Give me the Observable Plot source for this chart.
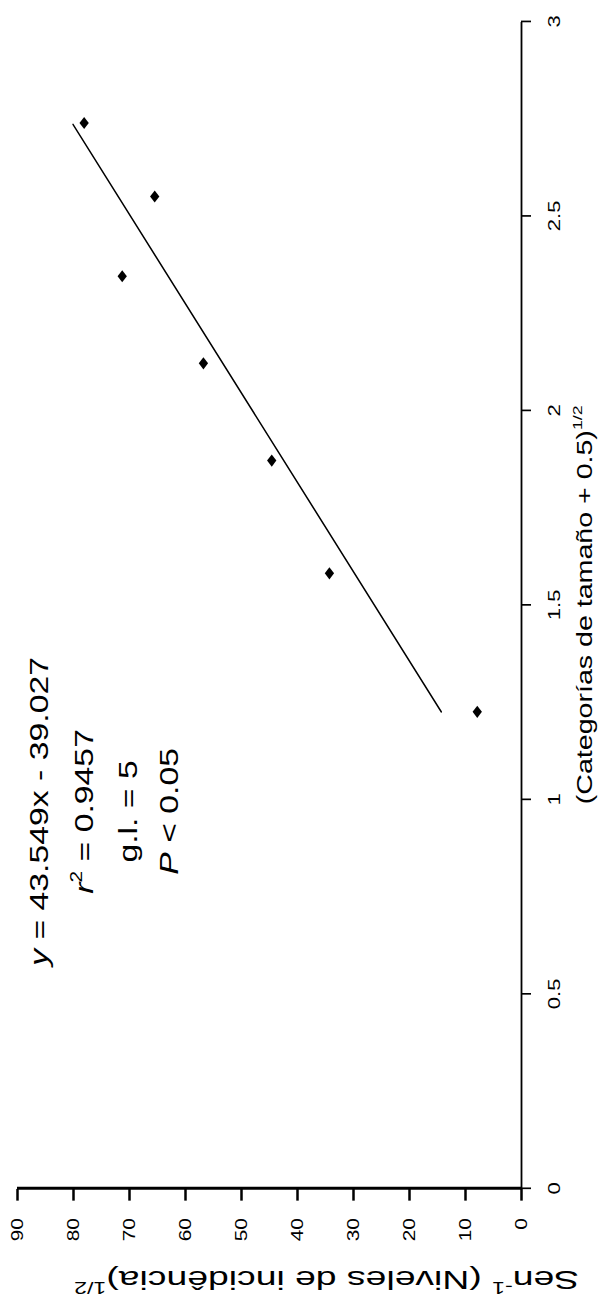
<!DOCTYPE html>
<html>
<head>
<meta charset="utf-8">
<script src="https://cdn.jsdelivr.net/npm/d3@7"></script>
<script src="https://cdn.jsdelivr.net/npm/@observablehq/plot@0.6"></script>
<style>
  html, body { margin: 0; padding: 0; width: 609px; height: 1302px; overflow: hidden; background: #fff; }
  #chart { position: relative; width: 609px; height: 1302px; overflow: hidden; }
  #chart svg { position: absolute; left: 0; top: 0; transform-origin: 0 0; max-width: none !important; }
</style>
</head>
<body>
<div id="chart"></div>
<script>
// ---- data ----
const xValues = [1.225, 1.581, 1.871, 2.121, 2.345, 2.550, 2.739]; // (Categorías de tamaño + 0.5)^1/2
const yValues = [7.9, 34.3, 44.6, 56.8, 71.3, 65.5, 78.1];          // Sen^-1 (Niveles de incidencia)^1/2
const xTicks = [0, 0.5, 1, 1.5, 2, 2.5, 3];
const yTicks = [0, 10, 20, 30, 40, 50, 60, 70, 80, 90];
const slope = 43.549;
const intercept = -39.027;
const fitRange = [1.225, 2.735];
const statLines = [
  [{t: "y", i: true}, {t: " = 43.549x - 39.027"}],
  [{t: "r", i: true}, {t: "2", sup: true}, {t: " = 0.9457"}],
  [{t: "g.l. = 5"}],
  [{t: "P", i: true}, {t: " < 0.05"}]
];
const xTitle = [{t: "(Categorías de tamaño + 0.5)"}, {t: "1/2", sup: true}];
const yTitle = [{t: "Sen"}, {t: "-1", sup: true}, {t: " (Niveles de incidência)"}, {t: "1/2", sup: true}];

// ---- layout ----
const W = 1002, H = 609, S = 1302 / W;
const FONT = "'Liberation Sans', Arial, Helvetica, sans-serif";
const annot = {statX: 0.969, statY: [84.5, 76.6, 68.6, 61.4], xTitleX: 1.5, xTitleY: -12.5, yTitleX: -0.234, yTitleY: 34.8, yTitleLength: 505};

const plain = segs => segs.map(p => p.t).join("");
const points = xValues.map((x, i) => ({x, y: yValues[i]}));
const fit = fitRange.map(x => ({x, y: slope * x + intercept}));

const svg = Plot.plot({
  width: W,
  height: H,
  marginLeft: 87,
  marginRight: 17,
  marginTop: 17,
  marginBottom: 88,
  x: {domain: [0, 3]},
  y: {domain: [0, 90]},
  style: {background: "white", fontFamily: FONT, color: "black", overflow: "visible"},
  marks: [
    Plot.ruleY([0], {x1: 0, x2: 3, stroke: "black", strokeWidth: 1.8}),
    Plot.ruleX([0], {y1: 0, y2: 90, stroke: "black", strokeWidth: 2.3}),
    Plot.axisX(xTicks, {tickSize: 10, tickPadding: 16, tickFormat: d => String(d), fontSize: 17, strokeWidth: 1.3, label: null, fontFamily: FONT}),
    Plot.axisY(yTicks, {tickSize: 9, tickPadding: 14, tickFormat: d => String(d), fontSize: 16, strokeWidth: 2.5, label: null, fontFamily: FONT}),
    Plot.line(fit, {x: "x", y: "y", stroke: "black", strokeWidth: 1.4}),
    Plot.dot(points, {x: "x", y: "y", symbol: "diamond2", r: 4.2, fill: "black", stroke: "none"}),
    Plot.text(statLines, {x: () => annot.statX, y: (d, i) => annot.statY[i], text: plain, fontSize: 26, textAnchor: "middle", lineAnchor: "bottom", fontFamily: FONT, fill: "black"}),
    Plot.text([xTitle], {x: () => annot.xTitleX, y: () => annot.xTitleY, text: plain, fontSize: 22, textAnchor: "middle", lineAnchor: "bottom", fontFamily: FONT, fill: "black"}),
    Plot.text([yTitle], {x: () => annot.yTitleX, y: () => annot.yTitleY, text: plain, rotate: -90, fontSize: 20, textAnchor: "middle", lineAnchor: "middle", fontFamily: FONT, fill: "black"})
  ]
});

function rich(list, fs, length) {
  d3.select(svg).selectAll("text").each(function() {
    const txt = this.textContent;
    const segs = list.find(s => plain(s) === txt);
    if (!segs) return;
    const el = d3.select(this);
    el.text(null);
    let shifted = false;
    segs.forEach(p => {
      const ts = el.append("tspan").text(p.t);
      if (p.i) ts.attr("font-style", "italic");
      if (p.sup) { ts.attr("font-size", fs * 0.62).attr("dy", -fs * 0.42); shifted = true; }
      else if (shifted) { ts.attr("dy", fs * 0.42); shifted = false; }
    });
    if (length) el.attr("textLength", length).attr("lengthAdjust", "spacingAndGlyphs");
  });
}
rich(statLines, 26);
rich([xTitle], 22);
rich([yTitle], 20, annot.yTitleLength);

svg.style.maxWidth = "none";
svg.style.width = W + "px";
svg.style.height = H + "px";
svg.style.transform = `translate(0px, 1302px) rotate(-90deg) scaleX(${S})`;
document.getElementById("chart").appendChild(svg);
</script>
</body>
</html>
